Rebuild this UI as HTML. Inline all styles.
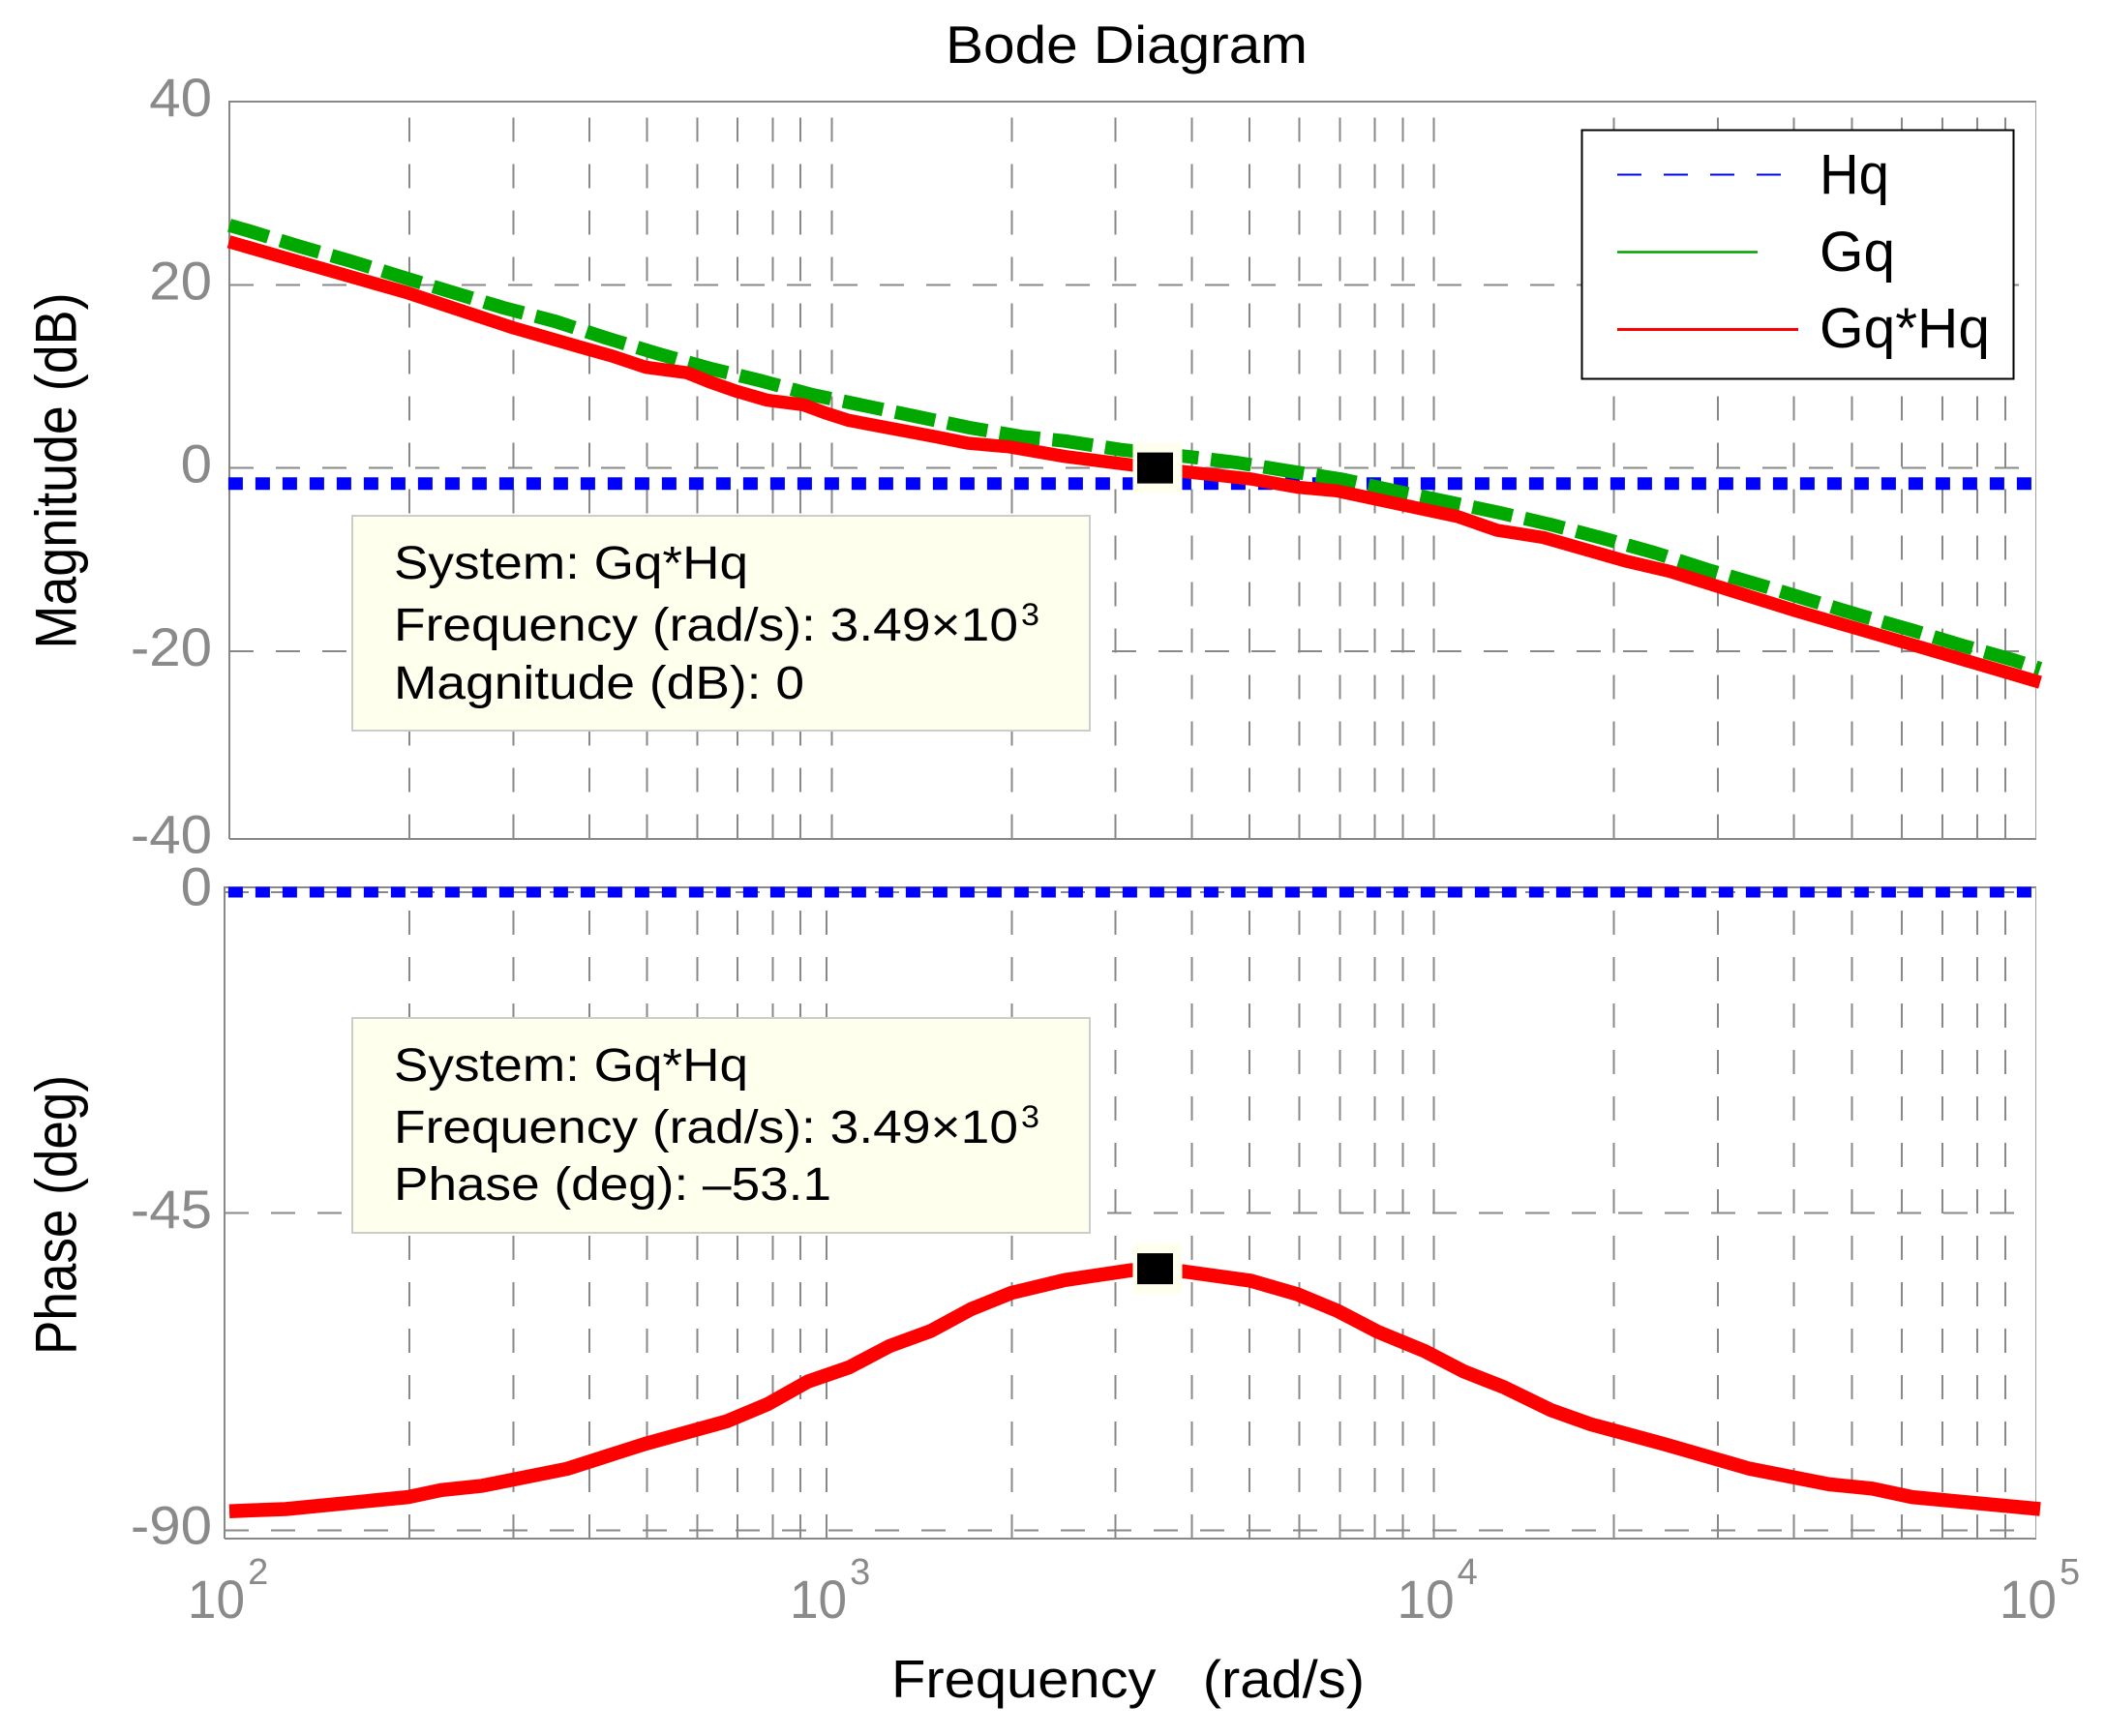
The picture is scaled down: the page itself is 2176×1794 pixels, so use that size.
<!DOCTYPE html>
<html lang="en">
<head>
<meta charset="utf-8">
<title>Bode Diagram</title>
<style>
html,body{margin:0;padding:0;background:#fff;}
svg{display:block;}
text{font-family:"Liberation Sans",Arial,sans-serif;}
.tick{fill:#8a8a8a;font-size:56px;}
.exp{fill:#8a8a8a;font-size:38px;}
.note{fill:#000;font-size:48px;}
.noteexp{fill:#000;font-size:32px;}
.leg{fill:#000;font-size:58px;}
.axis-title{fill:#000;font-size:55px;}
</style>
</head>
<body>
<svg id="chart" xmlns="http://www.w3.org/2000/svg" width="2176" height="1794" viewBox="0 0 2176 1794">
  <rect x="0" y="0" width="2176" height="1794" fill="#ffffff"/>
  <g id="grid" shape-rendering="crispEdges"></g>
  <g id="frames" shape-rendering="crispEdges">
    <path d="M237 867V105H2104M237 867H2104" fill="none" stroke="#888" stroke-width="2"/>
    <path d="M2103.5 105V867" fill="none" stroke="#a0a0a0" stroke-width="1"/>
    <path d="M232 1590V917H2104M232 1590H2104" fill="none" stroke="#888" stroke-width="2"/>
    <path d="M2103.5 917V1590" fill="none" stroke="#a0a0a0" stroke-width="1"/>
  </g>
  <g id="series"></g>
  <g id="markers"></g>
  <g id="ticks"></g>

  <text class="axis-title" x="977" y="65" textLength="374" lengthAdjust="spacingAndGlyphs">Bode Diagram</text>
  <text class="axis-title" transform="translate(78.6,670.5) rotate(-90) scale(1,1.1)" textLength="368" lengthAdjust="spacingAndGlyphs">Magnitude (dB)</text>
  <text class="axis-title" transform="translate(78.6,1400) rotate(-90) scale(1,1.1)" textLength="289" lengthAdjust="spacingAndGlyphs">Phase (deg)</text>
  <text class="axis-title" x="921" y="1754" textLength="489" lengthAdjust="spacingAndGlyphs" xml:space="preserve" style="white-space:pre">Frequency   (rad/s)</text>

  <g>
    <rect x="364" y="533" width="762" height="222" fill="#ffffee" stroke="#cccccc" stroke-width="2"/>
    <text class="note" x="407" y="598" textLength="366" lengthAdjust="spacingAndGlyphs">System: Gq*Hq</text>
    <text class="note" x="407" y="662" textLength="645" lengthAdjust="spacingAndGlyphs">Frequency (rad/s): 3.49×10</text>
    <text class="noteexp" x="1055" y="646" textLength="19" lengthAdjust="spacingAndGlyphs">3</text>
    <text class="note" x="407" y="722" textLength="424" lengthAdjust="spacingAndGlyphs">Magnitude (dB): 0</text>
  </g>
  <g>
    <rect x="364" y="1052" width="762" height="222" fill="#ffffee" stroke="#cccccc" stroke-width="2"/>
    <text class="note" x="407" y="1117" textLength="366" lengthAdjust="spacingAndGlyphs">System: Gq*Hq</text>
    <text class="note" x="407" y="1181" textLength="645" lengthAdjust="spacingAndGlyphs">Frequency (rad/s): 3.49×10</text>
    <text class="noteexp" x="1055" y="1165" textLength="19" lengthAdjust="spacingAndGlyphs">3</text>
    <text class="note" x="407" y="1240" textLength="452" lengthAdjust="spacingAndGlyphs">Phase (deg): –53.1</text>
  </g>

  <g>
    <rect x="1634.5" y="134.5" width="446" height="257" fill="#ffffff" stroke="#000000" stroke-width="2"/>
    <line x1="1671" y1="180.5" x2="1840" y2="180.5" stroke="#0000ff" stroke-width="2" stroke-dasharray="25 23"/>
    <text class="leg" x="1880" y="200" textLength="72" lengthAdjust="spacingAndGlyphs">Hq</text>
    <line x1="1671" y1="260.5" x2="1816" y2="260.5" stroke="#00a000" stroke-width="2.5"/>
    <text class="leg" x="1880" y="280" textLength="78" lengthAdjust="spacingAndGlyphs">Gq</text>
    <line x1="1671" y1="340.5" x2="1858" y2="340.5" stroke="#ff0000" stroke-width="3"/>
    <text class="leg" x="1880" y="359" textLength="176" lengthAdjust="spacingAndGlyphs">Gq*Hq</text>
  </g>
</svg>

<script>
// ---- Magnitude panel data (rad/s, dB) ----
const gqHqFreq = [99.8,198,296,383,433,491,575,627,693,782,897,977,1067,1238,1489,1683,1973,2436,3443,3849,4970,5933,6904,10940,12730,15200,20890,24660,39900,61500,101500];
const gqHqMag  = [24.7,19.1,15.3,13.2,12.2,11,10.4,9.4,8.4,7.4,6.9,6,5.2,4.4,3.4,2.7,2.3,1.26,0,-0.4,-1.2,-2.1,-2.5,-5.3,-6.8,-7.6,-10.2,-11.3,-15.6,-19.2,-23.4];
const gqFreq = [100,107.6,130.5,158.7,192.5,234.2,284.9,348,421.9,513.3,624.5,765.4,927.5,1133,1388,1695,2078,2436,3020,3941,4690,5748,7047,8604,10546,12876,15670,19130,23360,28420,34450,41920,51000,62060,75510,92000,101500];
const gqMag  = [26.5,25.9,24.2,22.6,20.9,19.2,17.5,16,14.2,12.5,10.9,9.5,8,6.8,5.6,4.4,3.4,2.95,2,1.2,0.6,-0.34,-1.25,-2.5,-3.7,-4.9,-6.2,-7.7,-9.3,-11.1,-12.7,-14.4,-16.1,-17.7,-19.4,-21,-21.9];
const hqMagFreq = [99.6,101500];
const hqMag = [-1.7,-1.7];

// ---- Phase panel data (rad/s, degrees) ----
const phaseFreq = [100,124,198,225,263,364,490,670,783,914,1069,1248,1459,1704,1990,2439,3148,3443,3849,4970,5933,6904,8066,9637,11220,13060,15600,18150,24040,33420,45290,53400,62200,101500];
const gqHqPhase = [-87.3,-87,-85.3,-84.3,-83.7,-81.3,-77.8,-74.6,-72.2,-69,-67,-64,-61.9,-58.8,-56.5,-54.7,-53.3,-53.1,-53.5,-54.8,-56.7,-59,-62,-64.7,-67.6,-69.8,-73,-75,-77.8,-81.3,-83.5,-84.1,-85.3,-87];
const hqPhaseFreq = [99.6,101500];
const hqPhase = [0,0];

// ---- Data-tip point ----
const tipFreq = [3443];
const tipMag = [0];
const tipPhase = [-53.1];

// ---- Axis tick values and labels ----
const magTickValues = [40,20,0,-20,-40];
const magGridValues = [20,0,-20];
const magTickLabels = ["40","20","0","-20","-40"];
const phaseTickValues = [0,-45,-90];
const phaseGridValues = [0,-45,-90];
const phaseTickLabels = ["0","-45","-90"];
const gridDecades = [100,1000,10000];
const gridMultipliers = [1.99,2.96,3.96,4.94,5.98,6.98,7.98,8.88];
const magMajorFreq = [1000,10000];
const phaseMajorFreq = [981,10000];
const freqTickValues = [98.2,981,10000,100000];
const freqTickExponents = ["2","3","4","5"];

// ---- Axis functions ----
function xScale(f){ return 237 + 622.33*(Math.log10(f)-2); }
function yMag(db){ return 483.6 - 9.465*db; }
function yPhase(deg){ return 922 - 7.328*deg; }

const NS = "http://www.w3.org/2000/svg";
const gridLayer = document.getElementById("grid");
const seriesLayer = document.getElementById("series");
const markerLayer = document.getElementById("markers");
const tickLayer = document.getElementById("ticks");

function pts(xs, ys, yFn){
  return xs.map(function(f,i){ return xScale(f).toFixed(1)+","+yFn(ys[i]).toFixed(1); }).join(" ");
}

function vGrid(f, top, bottom, offset, name){
  const el = document.createElementNS(NS,"line");
  
  
  el.setAttribute("x1",xScale(f)); el.setAttribute("x2",xScale(f));
  el.setAttribute("y1",top); el.setAttribute("y2",bottom);
  el.setAttribute("stroke","#888888"); el.setAttribute("stroke-width","2");
  el.setAttribute("stroke-dasharray","25 23");
  el.setAttribute("stroke-dashoffset",offset);
  gridLayer.appendChild(el);
}
function hGrid(y, left, name){
  const el = document.createElementNS(NS,"line");
  
  
  el.setAttribute("x1",left); el.setAttribute("x2",2104);
  el.setAttribute("y1",y); el.setAttribute("y2",y);
  el.setAttribute("stroke","#888888"); el.setAttribute("stroke-width","2");
  el.setAttribute("stroke-dasharray","25 23");
  gridLayer.appendChild(el);
}
gridDecades.forEach(function(d){
  gridMultipliers.forEach(function(m){
    vGrid(d*m,105,867,31.3,'magnitude-minor-gridline');
    vGrid(d*m,917,1590,24,'phase-minor-gridline');
  });
});
magMajorFreq.forEach(function(f){ vGrid(f,105,867,31.3,'magnitude-major-gridline'); });
phaseMajorFreq.forEach(function(f){ vGrid(f,917,1590,24,'phase-major-gridline'); });
magGridValues.forEach(function(v){ hGrid(yMag(v),237,'magnitude-horizontal-gridline'); });
phaseGridValues.forEach(function(v){ hGrid(v===0?yPhase(v):yPhase(v)+(v===-45?1.5:0),232,'phase-horizontal-gridline'); });

function series(xs, ys, yFn, color, width, dash, name){
  const el = document.createElementNS(NS,"polyline");
  
  
  el.setAttribute("points",pts(xs,ys,yFn));
  el.setAttribute("fill","none");
  el.setAttribute("stroke",color);
  el.setAttribute("stroke-width",width);
  el.setAttribute("stroke-linejoin","round");
  if(dash) el.setAttribute("stroke-dasharray",dash);
  seriesLayer.appendChild(el);
}
series(hqMagFreq,hqMag,yMag,"#0000ff",13,"15 13",'hq-magnitude-line');
series(hqPhaseFreq,hqPhase,yPhase,"#0000ff",11,"15 13",'hq-phase-line');
series(gqFreq,gqMag,yMag,"#00a800",14,"42 13",'gq-magnitude-line');
series(gqHqFreq,gqHqMag,yMag,"#ff0000",13.5,null,'gq-hq-magnitude-line');
series(phaseFreq,gqHqPhase,yPhase,"#ff0000",14.5,null,'gq-hq-phase-line');

function marker(f, y, name){
  const halo = document.createElementNS(NS,"rect");
  
  
  halo.setAttribute("x",xScale(f)-23); halo.setAttribute("y",y-26);
  halo.setAttribute("width",51); halo.setAttribute("height",52);
  halo.setAttribute("fill","#ffffee");
  markerLayer.appendChild(halo);
  const dot = document.createElementNS(NS,"rect");
  
  
  dot.setAttribute("x",xScale(f)-18.5); dot.setAttribute("y",y-16);
  dot.setAttribute("width",37); dot.setAttribute("height",32);
  dot.setAttribute("fill","#000000");
  markerLayer.appendChild(dot);
}
marker(tipFreq[0],yMag(tipMag[0]),'magnitude-crossover-marker');
marker(tipFreq[0],yPhase(tipPhase[0]),'phase-crossover-marker');

function yLabel(txt, y, name){
  const el = document.createElementNS(NS,"text");
  
  
  el.setAttribute("class","tick");
  el.setAttribute("transform","translate(219,"+y+") scale(1.04,1)");
  el.setAttribute("text-anchor","end");
  el.textContent = txt;
  tickLayer.appendChild(el);
}
magTickValues.forEach(function(v,i){
  yLabel(magTickLabels[i], yMag(v)+(v===-40?19.5:15), 'magnitude-tick-label');
});
phaseTickValues.forEach(function(v,i){
  yLabel(phaseTickLabels[i], yPhase(v)+(v===0?13.5:(v===-45?17:14)), 'phase-tick-label');
});
freqTickValues.forEach(function(f,i){
  const base = document.createElementNS(NS,"text");
  
  
  base.setAttribute("class","tick");
  base.setAttribute("transform","translate("+(xScale(f)+21)+",1672) scale(0.95,1)");
  base.setAttribute("text-anchor","end");
  base.textContent = "10";
  tickLayer.appendChild(base);
  const ex = document.createElementNS(NS,"text");
  
  
  ex.setAttribute("class","exp");
  ex.setAttribute("x",xScale(f)+24);
  ex.setAttribute("y",1637);
  ex.textContent = freqTickExponents[i];
  tickLayer.appendChild(ex);
});
</script>
</body>
</html>
